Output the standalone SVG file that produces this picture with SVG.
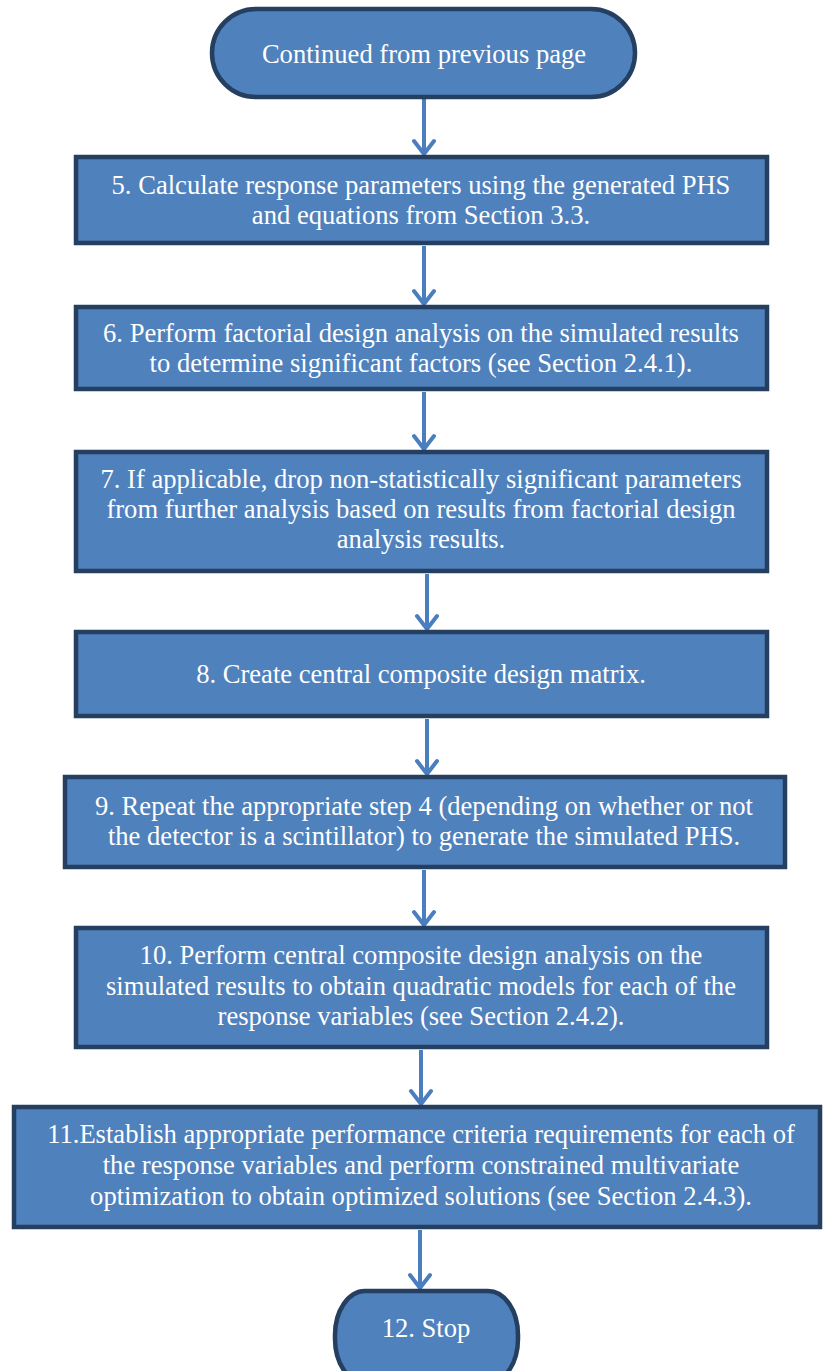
<svg xmlns="http://www.w3.org/2000/svg" width="823" height="1371" viewBox="0 0 823 1371">
<defs>
<style>
.box{fill:#4F81BD;stroke:#243F60;stroke-width:4.5}
.t{font-family:"Liberation Serif","Times New Roman",serif;font-size:26.6px;fill:#FFFFFF;text-anchor:middle}
.c{stroke:#4A7EBF;stroke-width:4;fill:none}
</style>
<marker id="arr" viewBox="-16 -13 18 26" refX="0" refY="0" markerWidth="18" markerHeight="26" markerUnits="userSpaceOnUse" orient="auto">
<path d="M-13,-10 L0,0 L-13,10" fill="none" stroke="#4A7EBF" stroke-width="4" stroke-linecap="round"/>
</marker>
</defs>
<rect width="823" height="1371" fill="#FFFFFF"/>
<g id="connectors">
<line class="c" x1="424" y1="99" x2="424" y2="154" marker-end="url(#arr)"/>
<line class="c" x1="424" y1="246" x2="424" y2="304" marker-end="url(#arr)"/>
<line class="c" x1="424" y1="392" x2="424" y2="449" marker-end="url(#arr)"/>
<line class="c" x1="427" y1="574" x2="427" y2="629" marker-end="url(#arr)"/>
<line class="c" x1="427" y1="719" x2="427" y2="774" marker-end="url(#arr)"/>
<line class="c" x1="424" y1="870" x2="424" y2="925" marker-end="url(#arr)"/>
<line class="c" x1="421" y1="1050" x2="421" y2="1104" marker-end="url(#arr)"/>
<line class="c" x1="420" y1="1230" x2="420" y2="1288" marker-end="url(#arr)"/>
</g>
<g id="start">
<rect class="box" x="212" y="9" width="423" height="88" rx="44" ry="44"/>
<text class="t" x="424" y="63">Continued from previous page</text>
</g>
<g id="step5">
<rect class="box" x="76" y="157" width="691" height="86"/>
<text class="t" x="421" y="194">5. Calculate response parameters using the generated PHS</text>
<text class="t" x="421" y="224">and equations from Section 3.3.</text>
</g>
<g id="step6">
<rect class="box" x="76" y="307" width="691" height="82"/>
<text class="t" x="421" y="342">6. Perform factorial design analysis on the simulated results</text>
<text class="t" x="421" y="372">to determine significant factors (see Section 2.4.1).</text>
</g>
<g id="step7">
<rect class="box" x="76" y="452" width="691" height="119"/>
<text class="t" x="421" y="488">7. If applicable, drop non-statistically significant parameters</text>
<text class="t" x="421" y="518">from further analysis based on results from factorial design</text>
<text class="t" x="421" y="548">analysis results.</text>
</g>
<g id="step8">
<rect class="box" x="76" y="632" width="691" height="84"/>
<text class="t" x="421" y="683">8. Create central composite design matrix.</text>
</g>
<g id="step9">
<rect class="box" x="65" y="777" width="720" height="90"/>
<text class="t" x="424" y="815">9. Repeat the appropriate step 4 (depending on whether or not</text>
<text class="t" x="424" y="845">the detector is a scintillator) to generate the simulated PHS.</text>
</g>
<g id="step10">
<rect class="box" x="76" y="928" width="691" height="119"/>
<text class="t" x="421" y="964">10. Perform central composite design analysis on the</text>
<text class="t" x="421" y="995">simulated results to obtain quadratic models for each of the</text>
<text class="t" x="421" y="1025">response variables (see Section 2.4.2).</text>
</g>
<g id="step11">
<rect class="box" x="14" y="1107" width="806" height="120"/>
<text class="t" x="421" y="1143">11.Establish appropriate performance criteria requirements for each of</text>
<text class="t" x="421" y="1174">the response variables and perform constrained multivariate</text>
<text class="t" x="421" y="1205">optimization to obtain optimized solutions (see Section 2.4.3).</text>
</g>
<g id="stop">
<rect class="box" x="335" y="1291" width="183" height="92" rx="30" ry="44"/>
<text class="t" x="426" y="1337">12. Stop</text>
</g>
</svg>
